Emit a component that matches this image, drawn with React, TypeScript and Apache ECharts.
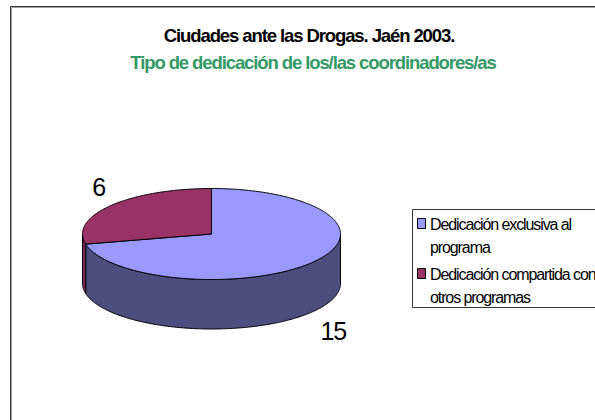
import React, { useEffect, useRef } from "react";
import * as echarts from "echarts";

const titleLine = "Ciudades ante las Drogas. Jaén 2003.";
const subtitleLine = "Tipo de dedicación de los/las coordinadores/as";
const categories = ["Dedicación exclusiva al\nprograma", "Dedicación compartida con\notros programas"];
const values = [15, 6];
const topColors = ["#9999FF", "#993366"];
const sideColors = ["#4D4D80", "#7A2A55"];
const labelOffsets = [[21, 19], [-12, -19]];
const legendRows = [225, 275];

const CX = 211.5, CY = 234, RX = 129, RY = 45.5, DEPTH = 49.5;
const rad = (d: number) => (d * Math.PI) / 180;
const ptX = (a: number) => CX + RX * Math.sin(rad(a));
const ptY = (a: number) => CY - RY * Math.cos(rad(a));
const arcPts = (from: number, to: number, dy = 0) => {
  const pts: number[][] = [];
  const n = Math.max(2, Math.ceil(Math.abs(to - from) * 1.5));
  for (let i = 0; i <= n; i++) {
    const a = from + ((to - from) * i) / n;
    pts.push([ptX(a), ptY(a) + dy]);
  }
  return pts;
};

export default function App() {
  const ref = useRef<HTMLDivElement>(null);
  useEffect(() => {
    document.body.style.margin = "0";
    document.body.style.background = "#fff";
    const chart = echarts.init(ref.current!, null, { renderer: "svg" });
    const total = values.reduce((a, b) => a + b, 0);
    const starts = values.map((_, i) => (values.slice(0, i).reduce((a, b) => a + b, 0) / total) * 360);
    const line = { stroke: "#000", lineWidth: 1, lineJoin: "round" as const };

    const legendGraphics: any[] = [
      { type: "rect", silent: true, shape: { x: 412.5, y: 209.5, width: 300, height: 98 }, style: { fill: "#fff", stroke: "#333", lineWidth: 1 } },
    ];
    categories.forEach((c, i) => {
      legendGraphics.push({
        type: "rect", shape: { x: 417.5, y: legendRows[i] - 6.5, width: 8, height: 10 },
        style: { fill: topColors[i], stroke: "#000", lineWidth: 1 },
      });
      legendGraphics.push({
        type: "text", x: 430, y: legendRows[i] - 12,
        style: { text: c, fill: "#000", font: "16px 'Liberation Sans', Arial, sans-serif", lineHeight: 23, verticalAlign: "top" },
        silent: true,
      });
    });

    chart.setOption({
      animation: false,
      backgroundColor: "#fff",
      graphic: [
        { type: "rect", silent: true, shape: { x: 11.5, y: 7.5, width: 700, height: 500 }, style: { fill: "none", stroke: "#a0a0a0", lineWidth: 1 } },
        { type: "rect", silent: true, shape: { x: 10.5, y: 6.5, width: 700, height: 500 }, style: { fill: "none", stroke: "#333", lineWidth: 1 } },
        { type: "text", x: 309, y: 35, style: { text: titleLine, fill: "#000", font: "bold 18.5px 'Liberation Sans', Arial, sans-serif", align: "center", verticalAlign: "middle" } },
        { type: "text", x: 313, y: 62, style: { text: subtitleLine, fill: "#339966", font: "bold 18.5px 'Liberation Sans', Arial, sans-serif", align: "center", verticalAlign: "middle" } },
        ...legendGraphics,
      ],
      series: [
        {
          type: "custom",
          coordinateSystem: "none",
          silent: true,
          data: values,
          renderItem: (params: any, api: any) => {
            const i = params.dataIndex;
            const v = api.value(0);
            const a0 = starts[i];
            const a1 = a0 + (v / total) * 360;
            const children: any[] = [];
            const s0 = Math.max(a0, 90), s1 = Math.min(a1, 270);
            if (s1 > s0) {
              children.push({
                type: "polygon",
                shape: { points: [...arcPts(s0, s1), ...arcPts(s1, s0, DEPTH)] },
                style: { fill: sideColors[i], ...line },
              });
            }
            children.push({
              type: "polygon",
              shape: { points: [[CX, CY], ...arcPts(a0, a1)] },
              style: { fill: topColors[i], ...line },
            });
            const mid = (a0 + a1) / 2;
            const below = Math.cos(rad(mid)) < 0 ? DEPTH : 0;
            children.push({
              type: "text",
              x: ptX(mid) + labelOffsets[i][0],
              y: ptY(mid) + below + labelOffsets[i][1],
              style: { text: String(v), fill: "#000", font: "25px 'Liberation Sans', Arial, sans-serif", align: "center", verticalAlign: "middle" },
            });
            return { type: "group", children };
          },
        },
      ],
    });
    return () => chart.dispose();
  }, []);
  return (
    <div
      ref={ref}
      style={{ position: "fixed", left: 0, top: 0, width: 595, height: 420, letterSpacing: "-1.1px" }}
    />
  );
}
